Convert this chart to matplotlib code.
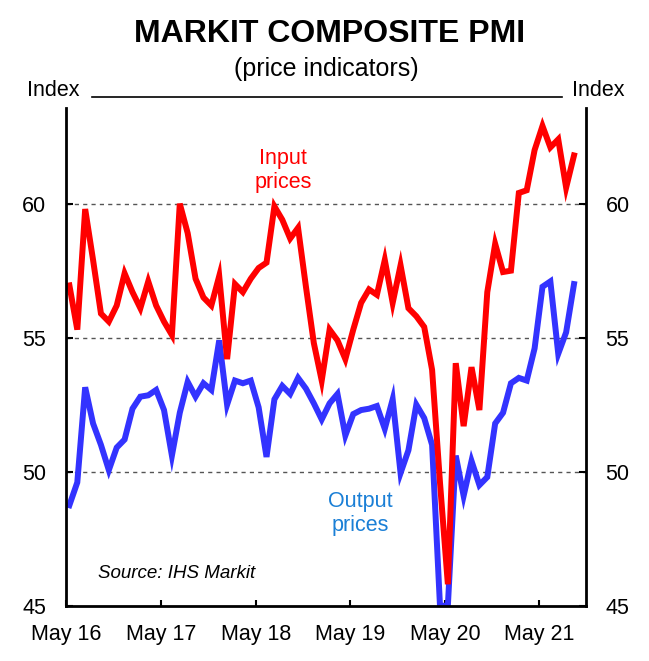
import numpy as np
import pandas as pd
import matplotlib
matplotlib.use("Agg")
import matplotlib.pyplot as plt

plt.rcParams['font.family'] = ['Liberation Sans', 'DejaVu Sans']

# monthly data, May 2016 to Sep 2021
months = pd.period_range('2016-05', '2021-09', freq='M')

input_prices = [56.95, 55.3, 59.8, 57.9, 55.9, 55.6, 56.2, 57.4, 56.7, 56.1,
                57.1, 56.2, 55.6, 55.1, 60.0, 58.9, 57.2, 56.5, 56.2, 57.3,
                54.2, 57.0, 56.7, 57.2, 57.6, 57.8, 59.9, 59.4, 58.7, 59.1,
                56.9, 54.8, 53.4, 55.3, 54.9, 54.2, 55.3, 56.3, 56.8, 56.6,
                57.9, 56.3, 57.7, 56.1, 55.8, 55.4, 53.8, 49.6, 45.8, 54.05,
                51.7, 53.9, 52.3, 56.7, 58.5, 57.45, 57.5, 60.4, 60.5, 62.0,
                62.9, 62.1, 62.4, 60.6, 61.8]

output_prices = [48.75, 49.6, 53.15, 51.8, 51.0, 50.06, 50.9, 51.2, 52.35, 52.8,
                 52.85, 53.05, 52.3, 50.6, 52.2, 53.35, 52.8, 53.3, 53.05, 54.9,
                 52.5, 53.4, 53.3, 53.4, 52.4, 50.55, 52.7, 53.2, 52.9, 53.5,
                 53.1, 52.55, 51.95, 52.55, 52.9, 51.35, 52.15, 52.3, 52.35, 52.45,
                 51.6, 52.7, 49.95, 50.8, 52.5, 52.0, 51.0, 45.0, 45.0, 50.6,
                 49.1, 50.4, 49.5, 49.8, 51.8, 52.2, 53.3, 53.5, 53.4, 54.6,
                 56.9, 57.1, 54.4, 55.2, 57.0]

tick_labels = ['May 16', 'May 17', 'May 18', 'May 19', 'May 20', 'May 21']
y_ticks = [45, 50, 55, 60]

# month number since May 2016, points sit a bit after the tick
x = np.array([(p - months[0]).n for p in months]) + 0.38

W, H = 649, 661
fig = plt.figure(figsize=(W / 100, H / 100), dpi=100)
ax = fig.add_axes([65.7 / W, 55.3 / H, (586 - 65.7) / W, (605.7 - 108) / H])

ax.plot(x, output_prices, color='#3333FF', lw=4.3, solid_joinstyle='miter')
ax.plot(x, input_prices, color='#FF0000', lw=4.3, solid_joinstyle='miter')

ax.set_xlim(-0.09, 65.9)
ax.set_ylim(45, 63.57)

ax.set_xticks([0, 12, 24, 36, 48, 60])
ax.set_xticklabels(tick_labels)
ax.set_yticks(y_ticks)
ax.set_yticklabels([str(v) for v in y_ticks])

for v in y_ticks[1:]:
    ax.axhline(v, color='#555555', lw=1, ls=(0, (3, 3)), zorder=0)

ax.spines['top'].set_visible(False)
for s in ['left', 'right', 'bottom']:
    ax.spines[s].set_linewidth(2)
    ax.spines[s].set_zorder(5)

ax.tick_params(axis='x', direction='in', length=4.5, width=1.5,
               labelsize=15.5, pad=13.5)
ax.tick_params(axis='y', direction='in', length=5, width=1.5,
               labelsize=15.5, pad=14, left=True, right=True,
               labelleft=True, labelright=True)

# labels on the chart
ax.text(27.5, 61.25, 'Input\nprices', color='#FF0000', fontsize=15.5,
        ha='center', va='center', linespacing=1.2)
ax.text(37.3, 48.45, 'Output\nprices', color='#1A7FD6', fontsize=15.5,
        ha='center', va='center', linespacing=1.2)
ax.text(4.0, 46.2, 'Source: IHS Markit', fontsize=13.5, style='italic',
        ha='left', va='center')

# title and header
fig.text(330 / W, 1 - 34 / H, 'MARKIT COMPOSITE PMI', fontsize=23,
         fontweight='bold', ha='center', va='center')
fig.text(326 / W, 1 - 69 / H, '(price indicators)', fontsize=18,
         ha='center', va='center')
fig.text(27 / W, 1 - 91 / H, 'Index', fontsize=15.5, ha='left', va='center')
fig.text(625 / W, 1 - 91 / H, 'Index', fontsize=15.5, ha='right', va='center')
fig.add_artist(plt.Line2D([91.7 / W, 561.7 / W], [1 - 96.7 / H, 1 - 96.7 / H],
                          color='black', lw=1.2))

fig.savefig('out.png', dpi=100)
